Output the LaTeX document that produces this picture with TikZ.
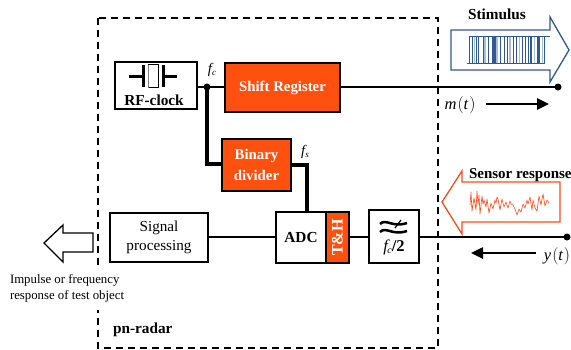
\documentclass[tikz,border=0pt]{standalone}
\usepackage{fontspec}
\setmainfont{Liberation Serif}
\usetikzlibrary{arrows.meta}
\definecolor{orng}{HTML}{FF5010}
\definecolor{stimblue}{HTML}{2F5A90}
\definecolor{stimlight}{HTML}{A9BFD8}
\definecolor{sensred}{HTML}{FF4A1C}
\tikzset{
 blk/.style={draw=black,line width=1.4pt,fill=white,inner sep=0pt,outer sep=0pt,align=center,font=\fontsize{15.2}{18.5}\selectfont},
 org/.style={blk,fill=orng,text=white,font=\fontsize{14.8}{21}\selectfont\bfseries},
 wire/.style={line width=2.7pt,black},
 heavy wire/.style={line width=3.2pt,black},
 dot/.style={circle,fill=black,inner sep=0pt,minimum size=7pt,outer sep=0pt},
 lbl/.style={inner sep=0pt,outer sep=0pt,font=\fontsize{14}{16}\selectfont},
 bold lbl/.style={lbl,font=\fontsize{15.3}{17}\selectfont\bfseries},
 sig arrow/.style={line width=2.5pt,black,-{Triangle[length=12pt,width=11pt]}},
}
\begin{document}
\begin{tikzpicture}[x=1pt,y=-1pt]
\useasboundingbox (0,0) rectangle (571,349);
% outer dashed frame
\draw[line width=1.4pt,dash pattern=on 7pt off 5pt] (98,18) rectangle (438,348);
% signal arrows (under the wires)
\draw[stimblue,line width=1.3pt,fill=white] (451,30) -- (550,30) -- (550,17) -- (569,50) -- (550,82) -- (550,70) -- (451,70) -- cycle;
\draw[sensred,line width=1.3pt,fill=white] (442,202) -- (462,171) -- (462,182) -- (560,182) -- (560,222) -- (462,222) -- (462,234) -- cycle;
\draw[black,line width=1.3pt,fill=white] (44,243) -- (63,225) -- (63,233) -- (93,233) -- (93,252) -- (63,252) -- (63,262) -- cycle;
% pulse train
\foreach \x/\w/\c in {469/1/stimblue,472/1/stimblue,474/1/stimlight,476/1/stimblue,478/1/stimblue,
 483/1/stimblue,485/2/stimlight,488/1/stimblue,492/1/stimblue,494/3/stimblue,497/2/stimlight,
 500/1/stimblue,504/1/stimblue,507/1/stimblue,510/2/stimlight,513/1/stimblue,516/1/stimblue,
 519/1/stimlight,522/1/stimblue,525/1/stimblue,528/1/stimblue,531/2/stimblue,534/1/stimlight,
 537/1/stimblue,539/2/stimblue,542/1/stimlight,544/1/stimblue}
 \draw[\c,line width=\w pt] (\x,36) -- (\x,63);
\draw[stimblue,line width=.6pt] (467,63) -- (545,63);
\draw[stimblue,line width=.6pt] (469,36) -- (550,36);
% sensor waveform
\draw[sensred,line width=.6pt,line join=round] (470,205) -- (471,192) -- (472,211) -- (474,198) -- (476,210) -- (477,191) -- (478,204) -- (479,195) -- (480,214) -- (482,196) -- (483,204) -- (484,200) -- (486,207) -- (487,199) -- (489,213) -- (491,203) -- (493,209) -- (495,200) -- (496,203) -- (497,197) -- (498,199) -- (500,210) -- (502,199) -- (504,207) -- (506,202) -- (508,208) -- (510,201) -- (511,204) -- (513,205) -- (515,209) -- (517,215) -- (519,209) -- (521,212) -- (523,204) -- (525,208) -- (527,200) -- (528,204) -- (530,197) -- (532,210) -- (533,200) -- (535,208) -- (537,211) -- (539,196) -- (541,205) -- (543,194) -- (545,206) -- (547,200) -- (549,203);
% blocks
\node[blk,minimum width=82pt,minimum height=47pt] (rf) at (156,85.5) {};
\node[org,minimum width=115pt,minimum height=49pt] (shift) at (282.5,87.5) {Shift Register};
\node[org,minimum width=69pt,minimum height=52pt] (div) at (256.5,165) {Binary\\divider};
\node[blk,minimum width=98pt,minimum height=49pt] (sp) at (159,237.5) {Signal\\processing};
\node[blk,minimum width=50pt,minimum height=51pt,font=\fontsize{15.3}{17}\selectfont\bfseries] (adc) at (301,237.5) {ADC};
\node[org,rotate=90,minimum width=51pt,minimum height=23pt,font=\fontsize{16}{18}\selectfont\bfseries] (th) at (337.5,237.5) {T\&H};
\node[blk,minimum width=50pt,minimum height=53pt] (lpf) at (394,236.5) {};
% free ends
\coordinate (jn) at (207,87);
\coordinate (mend) at (558,87);
\coordinate (yend) at (567,237);
% wires
\draw[wire] (rf.east |- jn) -- (jn) -- (shift.west |- jn);
\draw[wire] (shift.east |- mend) -- (mend);
\draw[heavy wire] (jn) -- (207,164) -- (div.west |- 0,164);
\draw[heavy wire] (div.east |- 0,165) -- (307,165) -- (307,212);
\draw[wire] (sp.east |- 0,237) -- (adc.west |- 0,237);
\draw[wire] (th.south |- 0,237) -- (lpf.west |- 0,237);
\draw[wire] (lpf.east |- 0,237) -- (yend);
\node[dot] at (jn) {};
\node[dot] at (mend) {};
\node[dot] at (yend) {};
% crystal
\draw[black,line width=3pt] (129,76) -- (143,76);
\draw[black,line width=3pt] (143,65) -- (143,87);
\draw[black,line width=3pt] (163,65) -- (163,87);
\draw[black,line width=3pt] (163,76) -- (177,76);
\draw[black,line width=.8pt,fill=white] (148,64.5) rectangle (158,87.5);
\draw[gray,line width=1.2pt] (148.5,64.5) -- (148.5,87.5);
% filter symbol
\draw[black,line width=2.5pt] (380,224) .. controls (386,218) and (392,228) .. (407,223);
\draw[black,line width=2.5pt] (380,232) .. controls (386,226) and (392,236) .. (407,231);
\draw[black,line width=1.2pt] (395,228) -- (401,220);
% labels
\node[bold lbl] (rflabel) at (154,100) {RF-clock};
\node[bold lbl,font=\fontsize{16.5}{18}\selectfont\bfseries] (lpflabel) at (394,247) {\textit{\mdseries f\kern-.5pt\raisebox{-2pt}{\fontsize{10}{10}\selectfont c}}/2};
\node[lbl,font=\fontsize{14.5}{16}\selectfont] (fc) at (212,70) {\textit{f\raisebox{-2pt}{\fontsize{9}{9}\selectfont c}}};
\node[lbl,font=\fontsize{14.5}{16}\selectfont] (fs) at (305,152) {\textit{f\raisebox{-2pt}{\fontsize{9}{9}\selectfont s}}};
\node[bold lbl] (stim) at (497,14) {Stimulus};
\node[bold lbl,font=\fontsize{15}{17}\selectfont\bfseries,anchor=west] (sens) at (469,175) {Sensor response};
\node[lbl,font=\fontsize{16.5}{18}\selectfont] (mt) at (460,105) {$\mathit{m}\kern1pt(\mathit{t}\kern1pt)$};
\node[lbl,font=\fontsize{16.5}{18}\selectfont] (yt) at (557,256) {$\mathit{y}\kern1pt(\mathit{t}\kern1pt)$};
\coordinate (ma) at (486,104);
\coordinate (mb) at (549,104);
\coordinate (ya) at (536,253);
\coordinate (yb) at (471,253);
\draw[sig arrow] (ma) -- (mb);
\draw[sig arrow] (ya) -- (yb);
\node[lbl,fill=white,anchor=north west,align=left,font=\fontsize{12.8}{16}\selectfont,inner ysep=8pt,inner xsep=0pt] (imp) at (10,266) {Impulse or frequency\\response of test object};
\node[bold lbl,anchor=west] (pn) at (113,330) {pn-radar};
\end{tikzpicture}
\end{document}
